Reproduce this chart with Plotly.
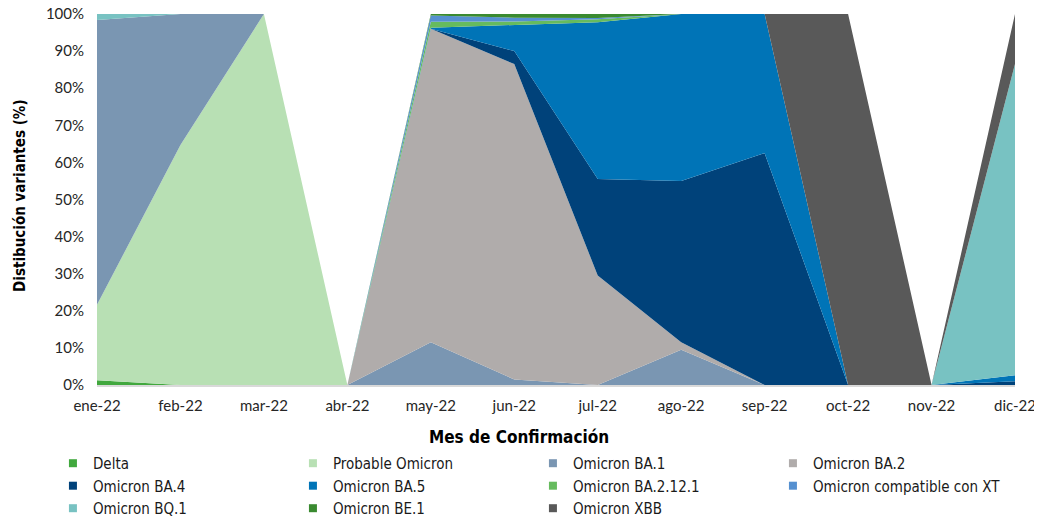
import plotly.graph_objects as go

months = ['ene-22', 'feb-22', 'mar-22', 'abr-22', 'may-22', 'jun-22',
          'jul-22', 'ago-22', 'sep-22', 'oct-22', 'nov-22', 'dic-22']

delta    = [1.3, 0, 0, 0, 0, 0, 0, 0, 0, 0, 0, 0]
probable = [20.3, 64.7, 100, 0, 0, 0, 0, 0, 0, 0, 0, 0]
ba1      = [76.8, 35.3, 0, 0, 11.5, 1.5, 0, 9.5, 0, 0, 0, 0]
ba2      = [0, 0, 0, 0, 84.5, 85.0, 29.5, 2.0, 0, 0, 0, 0]
ba4      = [0, 0, 0, 0, 0, 3.5, 26.0, 43.5, 62.5, 0, 0, 1.0]
ba5      = [0, 0, 0, 0, 0.3, 7.0, 42.3, 45.0, 37.5, 0, 0, 1.6]
ba2121   = [0, 0, 0, 0, 1.6, 1.0, 0.8, 0, 0, 0, 0, 0]
xt       = [0, 0, 0, 0, 1.7, 1.0, 0.3, 0, 0, 0, 0, 0]
bq1      = [1.6, 0, 0, 0, 0, 0, 0, 0, 0, 0, 0, 83.9]
be1      = [0, 0, 0, 0, 0.4, 1.0, 1.1, 0, 0, 0, 0, 0]
xbb      = [0, 0, 0, 0, 0, 0, 0, 0, 0, 100, 0, 13.5]

series = [
    ('Delta', delta, '#41A83E'),
    ('Probable Omicron', probable, '#B8E0B4'),
    ('Omicron BA.1', ba1, '#7A96B2'),
    ('Omicron BA.2', ba2, '#B0ACAB'),
    ('Omicron BA.4', ba4, '#00427A'),
    ('Omicron BA.5', ba5, '#0074B7'),
    ('Omicron BA.2.12.1', ba2121, '#66BB5E'),
    ('Omicron compatible con XT', xt, '#5590D0'),
    ('Omicron BQ.1', bq1, '#78C2C2'),
    ('Omicron BE.1', be1, '#3A8A30'),
    ('Omicron XBB', xbb, '#595959'),
]

fig = go.Figure()

# áreas apiladas
for name, vals, color in series:
    fig.add_trace(go.Scatter(
        x=months, y=vals,
        name=name,
        mode='lines',
        stackgroup='one',
        line=dict(width=0, color=color),
        fillcolor=color,
        showlegend=False,
        hovertemplate='%{y:.1f}%<extra>' + name + '</extra>',
    ))

# leyenda con cuadritos
for name, vals, color in series:
    fig.add_trace(go.Scatter(
        x=[None], y=[None],
        name=name,
        mode='markers',
        marker=dict(symbol='square', size=8, color=color),
        showlegend=True,
    ))

tick_font = dict(family='Lato', size=15, color='#262626')
title_font = 'DejaVu Sans Condensed'

# la página tiene 8px de margen en el body -> se descuenta aquí
fig.update_layout(
    width=1042, height=524,
    paper_bgcolor='white',
    plot_bgcolor='white',
    margin=dict(l=89, r=35, t=6, b=147, autoexpand=False),
    xaxis=dict(
        type='category',
        range=[0, 11],
        showgrid=False,
        zeroline=False,
        showline=True,
        linecolor='#D9D9D9',
        linewidth=2,
        ticks='',
        ticklabelstandoff=6,
        ticklabeloverflow='allow',
        tickfont=tick_font,
        automargin=False,
    ),
    yaxis=dict(
        range=[0, 100],
        dtick=10,
        ticksuffix='%',
        showgrid=False,
        zeroline=False,
        showline=False,
        ticks='',
        ticklabelstandoff=12,
        ticklabeloverflow='allow',
        tickfont=tick_font,
        automargin=False,
    ),
    showlegend=True,
    legend=dict(
        orientation='h',
        traceorder='normal',
        x=-0.048, xanchor='left',
        y=-0.167, yanchor='top',
        entrywidth=195,
        font=dict(family=title_font, size=15, color='#1a1a1a'),
        bgcolor='rgba(0,0,0,0)',
        itemwidth=30,
    ),
    annotations=[
        dict(
            text='<b>Mes de Confirmación</b>',
            xref='paper', yref='paper',
            x=0.46, y=-0.140, xanchor='center', yanchor='middle',
            showarrow=False,
            font=dict(family=title_font, size=17, color='#000000'),
        ),
        dict(
            text='<b>Distibución variantes (%)</b>',
            xref='paper', yref='paper',
            x=-0.084, y=0.512, xanchor='center', yanchor='middle',
            textangle=-90,
            showarrow=False,
            font=dict(family=title_font, size=15, color='#000000'),
        ),
    ],
)

fig.write_html('out.html')
